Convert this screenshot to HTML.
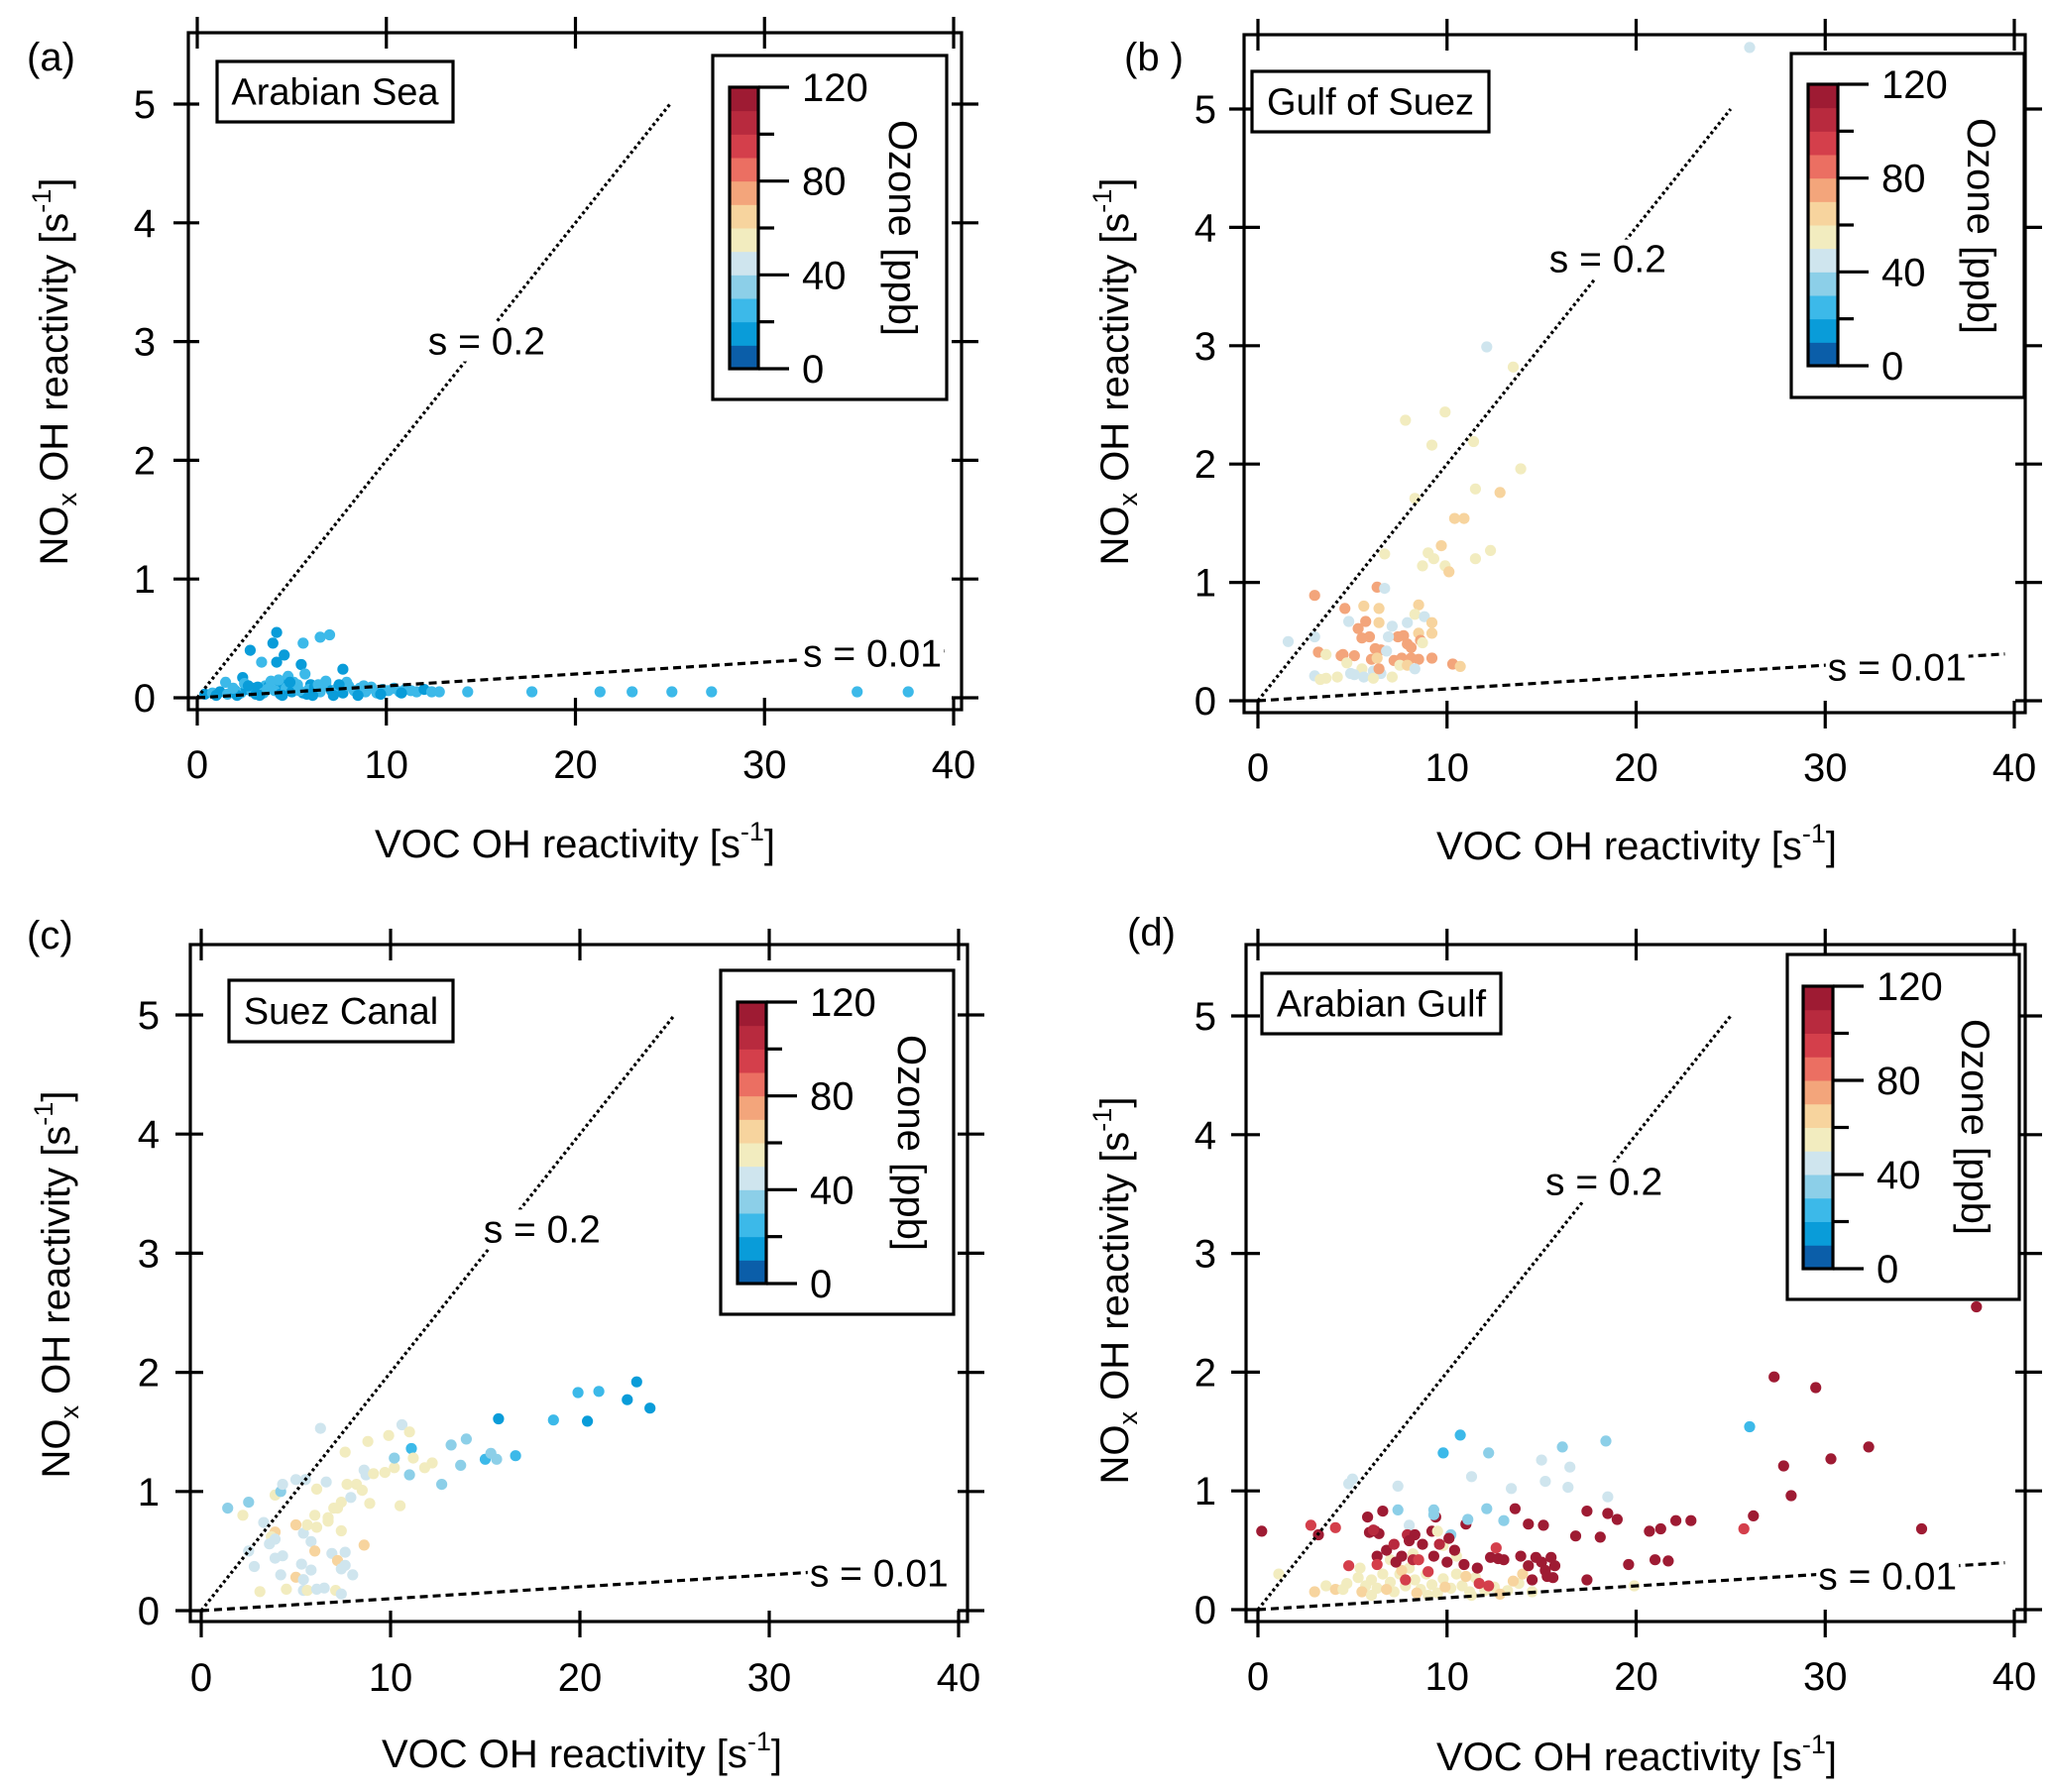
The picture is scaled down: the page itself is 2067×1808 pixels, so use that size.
<!DOCTYPE html>
<html><head><meta charset="utf-8"><title>OH reactivity</title>
<style>
html,body{margin:0;padding:0;background:#fff;}
svg{display:block;font-family:"Liberation Sans",sans-serif;}
</style></head>
<body>
<svg id="fig" xmlns="http://www.w3.org/2000/svg" width="2067" height="1808" viewBox="0 0 2067 1808">
<rect x="0" y="0" width="2067" height="1808" fill="#fff"/>
</svg>
<script>
// ---------- data ----------
const xTickLabels = ["0","10","20","30","40"];
const xTickValues = [0,10,20,30,40];
const yTickLabels = ["0","1","2","3","4","5"];
const yTickValues = [0,1,2,3,4,5];
const cbTickValues = [0,20,40,60,80,100,120];
const cbLabelValues = [0,40,80,120];
const ozoneBandColors = ["#0b5ea9","#099cd9","#3cb9e9","#8ccfe8","#cfe5ee","#f2ecbf","#f7d49e","#f3a57b","#eb6f62","#d43f4b","#b82a3e","#9e1b33"];
const regionNames = ["Arabian Sea","Gulf of Suez","Suez Canal","Arabian Gulf"];
const panelLetters = ["(a)","(b )","(c)","(d)"];
const slopeHigh = 0.2;
const slopeLow = 0.01;

// Panel (a) Arabian Sea
const aX = [4.2,4.0,2.8,4.6,5.6,6.5,7.0,3.4,4.2,5.5,7.7,5.7,2.4,1.5,4.8,3.0,3.6,4.4,5.2,6.0,6.8,0.4,0.8,1.2,1.6,2.0,2.3,2.6,2.9,3.2,3.5,3.8,4.1,4.4,4.7,5.0,5.3,5.6,5.9,6.2,6.5,6.8,7.1,7.4,7.7,8.0,8.3,8.6,8.9,9.2,9.5,9.8,10.1,10.4,10.7,11.0,11.3,11.6,12.0,12.4,12.8,1.0,2.1,3.3,4.5,5.8,7.2,8.5,9.7,2.5,3.9,5.1,6.4,7.9,14.3,17.7,21.3,23.0,25.1,27.2,34.9,37.6,10.8,3.1,6.1,2.7,3.7,4.9,5.4,6.6,7.5,8.8,9.0,1.9,4.3];
const aY = [0.55,0.46,0.40,0.36,0.46,0.51,0.53,0.30,0.30,0.28,0.24,0.20,0.17,0.13,0.18,0.08,0.10,0.12,0.09,0.11,0.14,0.03,0.04,0.05,0.03,0.06,0.04,0.07,0.05,0.09,0.04,0.10,0.06,0.03,0.08,0.05,0.11,0.04,0.07,0.09,0.05,0.12,0.06,0.08,0.04,0.10,0.06,0.08,0.05,0.09,0.04,0.07,0.06,0.08,0.05,0.07,0.06,0.05,0.07,0.05,0.05,0.02,0.02,0.02,0.02,0.03,0.02,0.02,0.03,0.12,0.14,0.13,0.11,0.13,0.05,0.05,0.05,0.05,0.05,0.05,0.05,0.05,0.04,0.03,0.02,0.10,0.07,0.13,0.06,0.09,0.11,0.10,0.07,0.08,0.15];
const aO = [15,15,15,15,25,25,25,25,15,15,15,25,15,25,25,15,25,15,25,15,25,15,25,15,25,15,25,15,25,15,25,15,25,15,25,15,25,15,25,15,25,25,15,25,15,25,25,25,25,25,25,25,25,25,25,25,25,25,15,25,25,15,15,15,15,15,15,15,15,25,25,25,25,25,25,25,25,25,25,25,25,25,15,15,15,15,25,15,25,25,15,25,25,25,25];

// Panel (b) Gulf of Suez
const bX = [26.0,12.1,13.5,9.9,7.8,9.2,11.4,13.9,8.3,11.5,12.8,10.4,10.9,9.7,9.0,9.3,6.7,12.3,11.5,8.7,9.9,10.1,3.0,6.3,6.7,4.6,5.6,6.4,8.5,1.6,4.8,5.7,5.3,6.4,7.1,7.9,8.3,8.8,9.2,9.2,8.5,7.7,7.4,6.9,5.9,5.5,3.0,3.2,3.6,4.5,5.1,4.4,6.2,6.5,6.8,7.9,8.1,8.6,8.7,6.0,6.3,7.2,7.6,8.1,8.5,9.2,4.7,4.9,5.5,6.1,6.5,7.1,7.5,7.9,8.3,10.3,10.7,3.0,3.3,3.6,4.2,5.1,5.6,6.1,6.4];
const bY = [5.52,2.99,2.82,2.44,2.37,2.16,2.19,1.96,1.71,1.79,1.76,1.54,1.54,1.31,1.25,1.20,1.24,1.27,1.20,1.14,1.14,1.09,0.89,0.96,0.95,0.78,0.80,0.78,0.81,0.50,0.67,0.67,0.61,0.66,0.63,0.66,0.73,0.71,0.66,0.57,0.57,0.55,0.54,0.54,0.54,0.53,0.54,0.41,0.39,0.39,0.38,0.38,0.44,0.43,0.42,0.48,0.45,0.51,0.49,0.35,0.36,0.34,0.36,0.36,0.35,0.36,0.32,0.23,0.27,0.25,0.23,0.20,0.30,0.30,0.27,0.31,0.29,0.21,0.18,0.19,0.20,0.22,0.20,0.19,0.27];
const bO = [45,45,55,55,55,55,55,55,55,55,65,65,65,65,55,55,55,55,55,55,55,65,75,75,45,75,65,65,65,45,45,75,75,65,45,45,55,45,65,65,65,75,75,45,75,75,45,75,55,75,75,75,75,75,45,75,75,75,55,75,65,75,75,75,75,75,55,45,55,45,45,55,55,65,45,75,65,45,55,55,55,45,45,55,75];

// Panel (c) Suez Canal
const cX = [1.4,2.5,2.2,3.3,3.9,4.2,4.3,5.0,5.5,6.3,6.6,6.1,3.9,3.7,3.6,3.9,2.5,2.8,3.9,4.3,4.2,5.0,5.4,5.6,6.0,6.1,5.8,6.0,5.3,5.8,5.0,5.4,3.1,4.5,5.4,5.6,6.1,6.5,7.1,7.4,6.7,7.0,6.7,7.4,7.2,7.4,7.7,7.6,8.2,8.5,7.9,8.8,8.6,8.7,9.1,8.9,6.9,7.2,7.4,7.6,7.6,8.0,8.6,9.7,9.9,10.2,10.2,10.5,10.6,11.0,11.1,11.0,11.2,11.8,12.2,12.7,13.2,13.7,14.0,15.0,15.3,15.6,15.7,16.6,18.6,19.9,20.4,21.0,22.5,23.0,23.7];
const cY = [0.86,0.91,0.80,0.74,0.97,1.00,1.06,1.10,1.10,1.53,1.08,1.02,0.66,0.62,0.56,0.60,0.50,0.37,0.44,0.46,0.30,0.72,0.65,0.72,0.80,0.70,0.58,0.50,0.39,0.34,0.28,0.26,0.16,0.18,0.17,0.17,0.18,0.19,0.17,0.14,0.78,0.86,0.75,0.67,0.86,0.91,1.06,1.33,1.06,1.01,0.95,1.42,1.18,1.14,1.15,0.90,0.48,0.42,0.35,0.49,0.38,0.30,0.55,1.16,1.47,1.20,1.28,0.88,1.56,1.50,1.36,1.14,1.28,1.20,1.24,1.06,1.39,1.22,1.44,1.27,1.32,1.27,1.61,1.30,1.60,1.83,1.59,1.84,1.77,1.92,1.70];
const cO = [35,35,55,45,55,35,45,45,45,45,45,55,65,55,45,45,45,45,45,45,45,65,45,55,55,55,45,65,45,45,65,45,55,55,45,55,45,45,55,45,55,55,55,55,55,55,55,55,55,55,45,55,45,45,55,55,45,65,45,45,45,45,65,55,55,55,35,55,45,55,25,35,55,55,55,35,35,35,35,25,35,35,15,25,25,25,15,25,15,15,15];

// Panel (d) Arabian Gulf
const dX = [0.2,1.1,2.8,3.2,4.1,3.0,3.6,4.1,4.5,4.8,4.8,5.0,5.8,6.6,7.4,7.4,5.9,6.2,6.4,6.1,8.0,7.9,8.3,9.2,9.3,9.4,9.3,9.8,10.7,9.5,10.2,11.0,11.1,11.3,12.2,12.1,13.0,13.4,13.6,14.3,15.1,15.0,15.2,16.1,16.4,16.5,16.8,17.4,18.1,18.4,18.5,18.5,19.0,19.6,19.9,20.7,21.0,21.3,21.7,22.1,22.9,25.7,26.0,26.2,27.3,27.8,28.2,29.5,30.3,32.3,35.1,38.0,
 4.7,5.3,5.7,6.0,6.3,6.6,7.0,7.2,7.5,7.8,8.0,8.3,8.6,8.9,9.2,9.5,9.8,10.2,10.5,10.8,11.2,11.5,12.0,12.5,13.2,13.8,14.5,5.5,6.8,7.6,8.4,9.9,11.0,12.8,13.5,14.0,7.0,8.2,9.8,5.4,6.0,11.3,10.5,9.0,
 6.3,6.8,7.2,7.6,8.0,8.2,8.7,9.3,9.6,10.0,10.4,10.9,11.6,12.3,12.7,13.9,14.3,14.7,15.0,15.2,15.5,15.7,15.3,14.5,15.6,17.4,13.0,10.1,7.3,12.6,9.0,11.7,12.2,8.5,7.8,6.3];
const dY = [0.66,0.30,0.71,0.63,0.69,0.15,0.20,0.17,0.17,0.37,1.06,1.10,0.78,0.83,1.04,0.84,0.65,0.66,0.64,0.67,0.71,0.63,0.63,0.66,0.84,0.78,0.80,1.32,1.47,0.66,0.63,0.72,0.76,1.12,1.32,0.85,0.75,1.02,0.85,0.72,0.71,1.26,1.08,1.37,1.03,1.20,0.62,0.83,0.61,1.42,0.95,0.81,0.76,0.38,0.20,0.66,0.42,0.68,0.41,0.75,0.75,0.68,1.54,0.79,1.96,1.21,0.96,1.87,1.27,1.37,0.68,2.55,
 0.22,0.27,0.20,0.25,0.18,0.30,0.23,0.15,0.30,0.20,0.35,0.25,0.17,0.30,0.21,0.14,0.26,0.18,0.30,0.20,0.15,0.27,0.16,0.19,0.16,0.22,0.15,0.15,0.17,0.33,0.14,0.19,0.28,0.13,0.24,0.30,0.42,0.47,0.54,0.35,0.12,0.12,0.45,0.12,
 0.45,0.50,0.55,0.45,0.58,0.42,0.55,0.45,0.55,0.40,0.50,0.38,0.35,0.44,0.43,0.45,0.37,0.44,0.40,0.33,0.44,0.37,0.28,0.25,0.27,0.25,0.42,0.60,0.40,0.52,0.32,0.22,0.20,0.42,0.25,0.38];
const dO = [115,55,95,115,95,65,55,65,55,95,45,45,115,115,45,35,115,115,115,105,45,105,115,115,35,115,35,25,25,55,35,115,35,45,35,35,35,45,115,115,115,45,45,35,45,45,115,115,115,35,45,115,115,115,55,115,115,115,115,115,115,95,25,115,115,115,115,115,115,115,115,115,
 55,55,55,55,55,55,55,55,55,55,55,55,55,55,55,55,55,55,55,55,55,55,55,55,55,55,55,65,65,65,65,65,65,65,65,65,55,55,55,55,55,55,55,55,
 115,115,105,115,115,105,115,115,105,115,115,115,115,115,115,115,115,115,115,115,115,115,115,115,115,115,115,115,115,95,95,95,95,95,95,95];

// label anchor positions (data coords) for slope lines
const highLabelX = [15.3,18.5,18.0,18.3];
const highLabelY = [3.0,3.73,3.2,3.6];
const lowLabelX = [35.7,33.8,35.8,33.3];
const lowLabelY = [0.37,0.28,0.31,0.28];

// ---------- layout (geometry, not data) ----------
const layouts = [
 {x0:199,x40:962,y0:704,y5:105,frame:[190,33,970,716],label:[219,62,457,123],cbBox:[719,56,955,403],cbBar:[736,88,765,372],ozX:897,ozY:230,ytX:68,ytY:375,xtX:580,xtY:865,letX:27,letY:71},
 {x0:1269,x40:2032,y0:707,y5:110,frame:[1255,35,2043,719],label:[1263,72,1502,133],cbBox:[1807,54,2042,401],cbBar:[1824,85,1854,369],ozX:1985,ozY:228,ytX:1138,ytY:375,xtX:1651,xtY:867,letX:1134,letY:71},
 {x0:203,x40:967,y0:1625,y5:1024,frame:[192,953,976,1636],label:[231,989,457,1051],cbBox:[727,979,962,1326],cbBar:[744,1011,773,1295],ozX:906,ozY:1153,ytX:70,ytY:1296,xtX:587,xtY:1783,letX:27,letY:957},
 {x0:1269,x40:2032,y0:1624,y5:1025,frame:[1257,953,2043,1636],label:[1273,982,1514,1043],cbBox:[1803,963,2037,1311],cbBar:[1819,995,1849,1280],ozX:1979,ozY:1137,ytX:1138,ytY:1302,xtX:1651,xtY:1786,letX:1137,letY:954}
];
const seriesX=[aX,bX,cX,dX], seriesY=[aY,bY,cY,dY], seriesO=[aO,bO,cO,dO];

const NS="http://www.w3.org/2000/svg";
const svg=document.getElementById('fig');
function mk(tag,attrs,parent){const e=document.createElementNS(NS,tag);for(const k in attrs)e.setAttribute(k,attrs[k]);(parent||svg).appendChild(e);return e;}
function ozColor(o){let i=Math.floor(o/10);if(i<0)i=0;if(i>11)i=11;return ozoneBandColors[i];}

layouts.forEach((L,p)=>{
  const sx=v=>L.x0+(L.x40-L.x0)*v/40;
  const sy=v=>L.y0+(L.y5-L.y0)*v/5;
  const g=mk('g',{});
  
  
  const [fl,ft,fr,fb]=L.frame;
  const pts=mk('g',{},g);
  
  
  const X=seriesX[p],Y=seriesY[p],O=seriesO[p];
  for(let i=0;i<X.length;i++){
    const c=mk('circle',{cx:sx(X[i]).toFixed(1),cy:sy(Y[i]).toFixed(1),r:5.6,fill:ozColor(O[i])},pts);
    
    
  }
  const l1=mk('line',{x1:sx(0),y1:sy(0),x2:sx(25),y2:sy(25*slopeHigh),stroke:'#000','stroke-width':3.2,'stroke-dasharray':'3 3'},g);
  
  
  const l2=mk('line',{x1:sx(0),y1:sy(0),x2:sx(39.5),y2:sy(39.5*slopeLow),stroke:'#000','stroke-width':3.2,'stroke-dasharray':'8 5'},g);
  
  
  [[highLabelX[p],highLabelY[p],'s = 0.2',122],[lowLabelX[p],lowLabelY[p],'s = 0.01',140]].forEach((s,k)=>{
    const cx=sx(s[0]),cy=sy(s[1]);
    mk('rect',{x:cx-s[3]/2-2,y:cy-20,width:s[3]+4,height:40,fill:'#fff'},g);
    const t=mk('text',{x:cx,y:cy+13,'text-anchor':'middle','font-size':39,fill:'#000'},g);
    t.textContent=s[2];
    
    
  });
  const fr_=mk('rect',{x:fl,y:ft,width:fr-fl,height:fb-ft,fill:'none',stroke:'#000','stroke-width':3.2},g);
  
  
  xTickValues.forEach((v,i)=>{
    const x=sx(v);
    mk('line',{x1:x,y1:L.y0,x2:x,y2:fb+16,stroke:'#000','stroke-width':3.2},g);
    mk('line',{x1:x,y1:ft-16,x2:x,y2:ft+16,stroke:'#000','stroke-width':3.2},g);
    const t=mk('text',{x:x,y:L.y0+81,'text-anchor':'middle','font-size':40},g);
    t.textContent=xTickLabels[i];
    
    
  });
  yTickValues.forEach((v,i)=>{
    const y=sy(v);
    mk('line',{x1:fl-15,y1:y,x2:L.x0+2,y2:y,stroke:'#000','stroke-width':3.2},g);
    mk('line',{x1:fr-10,y1:y,x2:fr+17,y2:y,stroke:'#000','stroke-width':3.2},g);
    const t=mk('text',{x:L.x0-42,y:y+14,'text-anchor':'end','font-size':40},g);
    t.textContent=yTickLabels[i];
    
    
  });
  const xt=mk('text',{x:L.xtX,y:L.xtY,'text-anchor':'middle','font-size':40},g);
  xt.innerHTML='VOC OH reactivity [s<tspan dy="-17" font-size="27">-1</tspan><tspan dy="17">]</tspan>';
  
  
  const yt=mk('text',{x:0,y:0,'text-anchor':'middle','font-size':40,transform:`translate(${L.ytX},${L.ytY}) rotate(-90)`},g);
  yt.innerHTML='NO<tspan dy="9" font-size="27">x</tspan><tspan dy="-9"> OH reactivity [s</tspan><tspan dy="-17" font-size="27">-1</tspan><tspan dy="17">]</tspan>';
  
  
  const lt=mk('text',{x:L.letX,y:L.letY,'font-size':40},g);
  lt.textContent=panelLetters[p];
  
  
  const [bx1,by1,bx2,by2]=L.label;
  const rb=mk('rect',{x:bx1,y:by1,width:bx2-bx1,height:by2-by1,fill:'#fff',stroke:'#000','stroke-width':3.2},g);
  
  
  const rt=mk('text',{x:(bx1+bx2)/2,y:(by1+by2)/2+13,'text-anchor':'middle','font-size':38},g);
  rt.textContent=regionNames[p];
  
  
  const [cx1,cy1,cx2,cy2]=L.cbBox;
  const cb=mk('rect',{x:cx1,y:cy1,width:cx2-cx1,height:cy2-cy1,fill:'#fff',stroke:'#000','stroke-width':3.2},g);
  
  
  const [ax1,ay1,ax2,ay2]=L.cbBar;
  const bh=(ay2-ay1)/ozoneBandColors.length;
  ozoneBandColors.forEach((col,i)=>{
    const r=mk('rect',{x:ax1,y:ay2-(i+1)*bh,width:ax2-ax1,height:bh+0.5,fill:col},g);
    
    
  });
  mk('rect',{x:ax1,y:ay1,width:ax2-ax1,height:ay2-ay1,fill:'none',stroke:'#000','stroke-width':3.2},g);
  const cby=v=>ay2-(ay2-ay1)*v/120;
  cbTickValues.forEach(v=>{
    const major=cbLabelValues.indexOf(v)>=0;
    mk('line',{x1:ax2,y1:cby(v),x2:ax2+(major?31:16),y2:cby(v),stroke:'#000','stroke-width':3.2},g);
    if(major){
      const t=mk('text',{x:ax2+44,y:cby(v)+14,'font-size':40},g);
      t.textContent=String(v);
      
      
    }
  });
  const oz=mk('text',{x:0,y:0,'text-anchor':'middle','font-size':40,transform:`translate(${L.ozX},${L.ozY}) rotate(90)`},g);
  oz.textContent='Ozone [ppb]';
  
  
});
</script>
</body></html>
